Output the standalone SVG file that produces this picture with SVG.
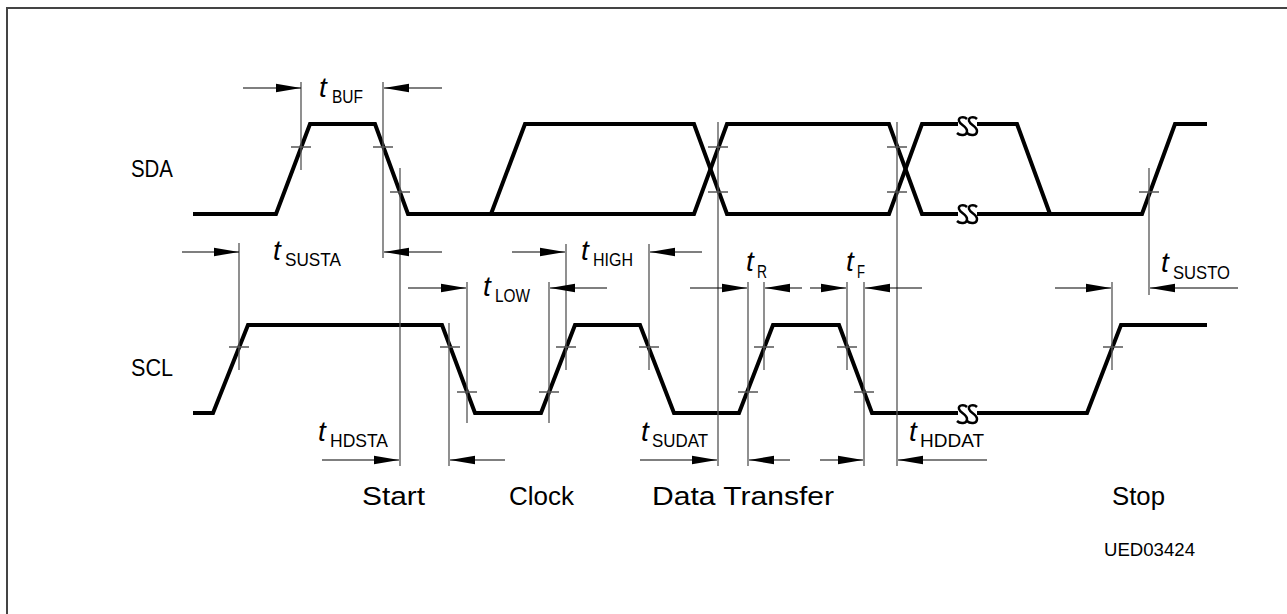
<svg xmlns="http://www.w3.org/2000/svg" width="1287" height="614" viewBox="0 0 1287 614">
<style>
.sig{fill:none;stroke:#000;stroke-width:4;stroke-linejoin:miter;stroke-linecap:butt}
.brk{fill:none;stroke:#000;stroke-width:2.5;stroke-linecap:butt}
.ref{stroke:#555;stroke-width:1.3;fill:none}
.arr{stroke:#000;stroke-width:1.2;fill:none;marker-end:url(#ah)}
.lbl{font-family:"Liberation Sans",Arial,sans-serif;font-size:26px;fill:#000}
.tt{font-family:"Liberation Sans",Arial,sans-serif;font-size:28px;font-style:italic;fill:#000}
.sub{font-family:"Liberation Sans",Arial,sans-serif;font-size:18px;fill:#000}
.id{font-family:"Liberation Sans",Arial,sans-serif;font-size:18px;fill:#000}
</style>
<defs>
<marker id="ah" markerUnits="userSpaceOnUse" markerWidth="26" markerHeight="10" refX="25" refY="5" orient="auto">
<path d="M0,0.8 L25,5 L0,9.2 z" fill="#000"/>
</marker>
<path id="ss" class="brk" d="M-1,-7 C-4,-10 -10,-9 -9,-5 C-8,-1 -1,0 -1,5 C-1,10 -8,10 -11,7 M9,-7 C6,-10 0,-9 1,-5 C2,-1 9,0 9,5 C9,10 2,10 -1,7"/>
</defs>
<rect width="1287" height="614" fill="#fff"/>
<g id="frame">
<path d="M7,614 L7,8 L1287,8" fill="none" stroke="#444" stroke-width="2"/>
</g>
<g id="signals">
<path class="sig" d="M193,214 L276,214 L310,124 L375,124 L408,214 L694,214 L727,124 L889,124 L922,214 L958,214"/>
<path class="sig" d="M491,214 L525,124 L694,124 L727,214 L889,214 L922,124 L958,124"/>
<path class="sig" d="M977,124 L1017,124 L1050,214"/>
<path class="sig" d="M977,214 L1142,214 L1175,124 L1207,124"/>
<path class="sig" d="M193,413 L213,413 L248,325 L442,325 L475,413 L541,413 L575,325 L640,325 L674,413 L739,413 L773,325 L839,325 L872,413 L958,413"/>
<path class="sig" d="M977,413 L1087,413 L1121,325 L1207,325"/>
<g id="breaks">
<use href="#ss" x="968" y="126"/>
<use href="#ss" x="968" y="214"/>
<use href="#ss" x="968" y="414"/>
</g>
</g>
<g id="reference-lines">
<path class="ref" d="M301,82 V170 M383,82 V258 M400,168 V466 M239,243 V370 M449,323 V466 M467,282 V423 M549,282 V423 M566,244 V370 M649,244 V370 M718,122 V466 M748,282 V466 M764,282 V370 M847,282 V370 M864,282 V466 M897,122 V466 M1112,282 V370 M1149,168 V295"/>
<path class="ref" d="M291,147 H311 M373,147 H393 M390,192 H410 M708,147 H728 M708,192 H728 M887,147 H907 M887,192 H907 M1139,192 H1159"/>
<path class="ref" d="M229,347 H249 M440,347 H460 M457,392 H477 M539,392 H559 M556,347 H576 M639,347 H659 M738,392 H758 M754,347 H774 M837,347 H857 M854,392 H874 M1103,347 H1123"/>
</g>
<g id="connectors">
<line class="arr" x1="243" y1="88" x2="301" y2="88"/>
<line class="arr" x1="442" y1="88" x2="384" y2="88"/>
<line class="arr" x1="182" y1="252" x2="239" y2="252"/>
<line class="arr" x1="442" y1="252" x2="384" y2="252"/>
<line class="arr" x1="512" y1="252" x2="565" y2="252"/>
<line class="arr" x1="702" y1="252" x2="650" y2="252"/>
<line class="arr" x1="408" y1="288" x2="466" y2="288"/>
<line class="arr" x1="607" y1="288" x2="550" y2="288"/>
<line class="arr" x1="690" y1="288" x2="747" y2="288"/>
<line class="arr" x1="802" y1="288" x2="765" y2="288"/>
<line class="arr" x1="810" y1="288" x2="846" y2="288"/>
<line class="arr" x1="922" y1="288" x2="865" y2="288"/>
<line class="arr" x1="1055" y1="288" x2="1111" y2="288"/>
<line class="arr" x1="1238" y1="288" x2="1150" y2="288"/>
<line class="arr" x1="322" y1="460" x2="399" y2="460"/>
<line class="arr" x1="505" y1="460" x2="450" y2="460"/>
<line class="arr" x1="640" y1="460" x2="717" y2="460"/>
<line class="arr" x1="790" y1="460" x2="749" y2="460"/>
<line class="arr" x1="820" y1="460" x2="863" y2="460"/>
<line class="arr" x1="987" y1="460" x2="898" y2="460"/>
</g>
<g id="labels">
<text class="lbl" x="131" y="177" textLength="42" lengthAdjust="spacingAndGlyphs" style="font-size:24px">SDA</text>
<text class="lbl" x="131" y="376" textLength="42" lengthAdjust="spacingAndGlyphs" style="font-size:24px">SCL</text>
<text class="lbl" x="362" y="505" textLength="63" lengthAdjust="spacingAndGlyphs">Start</text>
<text class="lbl" x="509" y="505" textLength="65" lengthAdjust="spacingAndGlyphs">Clock</text>
<text class="lbl" x="652" y="505" textLength="182" lengthAdjust="spacingAndGlyphs">Data Transfer</text>
<text class="lbl" x="1112" y="505" textLength="53" lengthAdjust="spacingAndGlyphs">Stop</text>
<text class="id" x="1104" y="556" textLength="91" lengthAdjust="spacingAndGlyphs">UED03424</text>
</g>
<g id="timing-labels">
<text class="tt" x="319" y="97">t</text><text class="sub" x="332" y="103" textLength="31" lengthAdjust="spacingAndGlyphs">BUF</text>
<text class="tt" x="273" y="260">t</text><text class="sub" x="285" y="266" textLength="56" lengthAdjust="spacingAndGlyphs">SUSTA</text>
<text class="tt" x="581" y="260">t</text><text class="sub" x="593" y="266" textLength="40" lengthAdjust="spacingAndGlyphs">HIGH</text>
<text class="tt" x="483" y="296">t</text><text class="sub" x="495" y="302" textLength="35" lengthAdjust="spacingAndGlyphs">LOW</text>
<text class="tt" x="746" y="271">t</text><text class="sub" x="757" y="278" textLength="10" lengthAdjust="spacingAndGlyphs">R</text>
<text class="tt" x="846" y="271">t</text><text class="sub" x="857" y="278" textLength="8" lengthAdjust="spacingAndGlyphs">F</text>
<text class="tt" x="1161" y="272">t</text><text class="sub" x="1173" y="279" textLength="57" lengthAdjust="spacingAndGlyphs">SUSTO</text>
<text class="tt" x="318" y="441">t</text><text class="sub" x="330" y="447" textLength="58" lengthAdjust="spacingAndGlyphs">HDSTA</text>
<text class="tt" x="641" y="441">t</text><text class="sub" x="652" y="447" textLength="56" lengthAdjust="spacingAndGlyphs">SUDAT</text>
<text class="tt" x="909" y="441">t</text><text class="sub" x="920" y="447" textLength="64" lengthAdjust="spacingAndGlyphs">HDDAT</text>
</g>
</svg>
